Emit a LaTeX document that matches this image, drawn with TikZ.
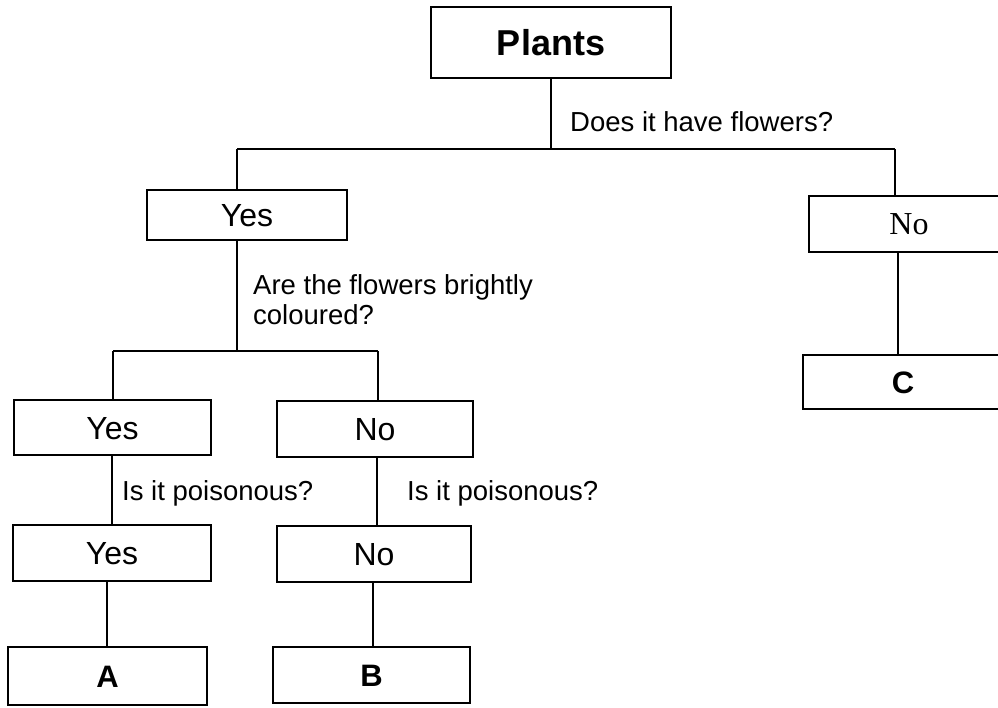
\documentclass[tikz,border=0pt]{standalone}
\usepackage{fontspec}
\setmainfont{Liberation Sans}
\newfontfamily\serifNo{Liberation Serif}
\begin{document}
\begin{tikzpicture}[x=1pt,y=-1pt,
  box/.style={draw, line width=1.8pt, inner sep=0pt, minimum width=#1, text height=23pt, text depth=0pt},
  box/.default=198pt,
  conn/.style={line width=1.8pt},
  lab/.style={inner sep=0pt, font=\fontsize{27.5}{30}\selectfont},
  boxtext/.style={font=\fontsize{32}{34}\selectfont},
  boldtext/.style={font=\bfseries\fontsize{31}{33}\selectfont, text height=22pt}]
\useasboundingbox (0,0) rectangle (998,707);
\clip (0,0) rectangle (998,707);
% boxes
\node[box=240pt, minimum height=71pt, font=\bfseries\fontsize{36}{40}\selectfont, text height=26pt] (plants) at (551,42.5) {Plants};
\node[box=200pt, minimum height=50pt, boxtext] (yes1) at (247,215) {Yes};
\node[box=200pt, minimum height=56pt, font=\serifNo\fontsize{32}{34}\selectfont, text height=21pt] (no1) at (909,224) {No};
\node[box=200pt, minimum height=54pt, boldtext] (c) at (903,382) {C};
\node[box=197pt, minimum height=55pt, boxtext] (yes2) at (112.5,427.5) {Yes};
\node[box=196pt, minimum height=56pt, boxtext] (no2) at (375,429) {No};
\node[box=198pt, minimum height=56pt, boxtext] (yes3) at (112,553) {Yes};
\node[box=194pt, minimum height=56pt, boxtext] (no3) at (374,554) {No};
\node[box=199pt, minimum height=58pt, boldtext] (a) at (107.5,676) {A};
\node[box=197pt, minimum height=56pt, boldtext] (b) at (371.5,675) {B};
% labels
\node[lab, anchor=base west] (q1) at (570,131) {Does it have flowers?};
\node[lab, anchor=north west, align=left] (q2) at (253,274) {Are the flowers brightly\\coloured?};
\node[lab, anchor=base west] (q3) at (122,500) {Is it poisonous?};
\node[lab, anchor=base west] (q4) at (407,500) {Is it poisonous?};
% junction coordinates
\coordinate (j1) at (551,149);
\coordinate (jl) at (237,149);
\coordinate (jr) at (895,149);
\coordinate (jc) at (898,300);
\coordinate (j2) at (237,351);
\coordinate (j2l) at (113,351);
\coordinate (j2r) at (378,351);
\coordinate (k1) at (112,490);
\coordinate (k2) at (377,490);
\coordinate (m1) at (107,610);
\coordinate (m2) at (373,610);
% connectors
\draw[conn] (plants.south) -- (j1);
\draw[conn] (jl) -- (jr);
\draw[conn] (jl) -- (yes1.north -| jl);
\draw[conn] (jr) -- (no1.north -| jr);
\draw[conn] (no1.south -| jc) -- (c.north -| jc);
\draw[conn] (yes1.south -| jl) -- (j2);
\draw[conn] (j2l) -- (j2r);
\draw[conn] (j2l) -- (yes2.north -| j2l);
\draw[conn] (j2r) -- (no2.north -| j2r);
\draw[conn] (yes2.south -| k1) -- (yes3.north -| k1);
\draw[conn] (no2.south -| k2) -- (no3.north -| k2);
\draw[conn] (yes3.south -| m1) -- (a.north -| m1);
\draw[conn] (no3.south -| m2) -- (b.north -| m2);
\end{tikzpicture}
\end{document}
